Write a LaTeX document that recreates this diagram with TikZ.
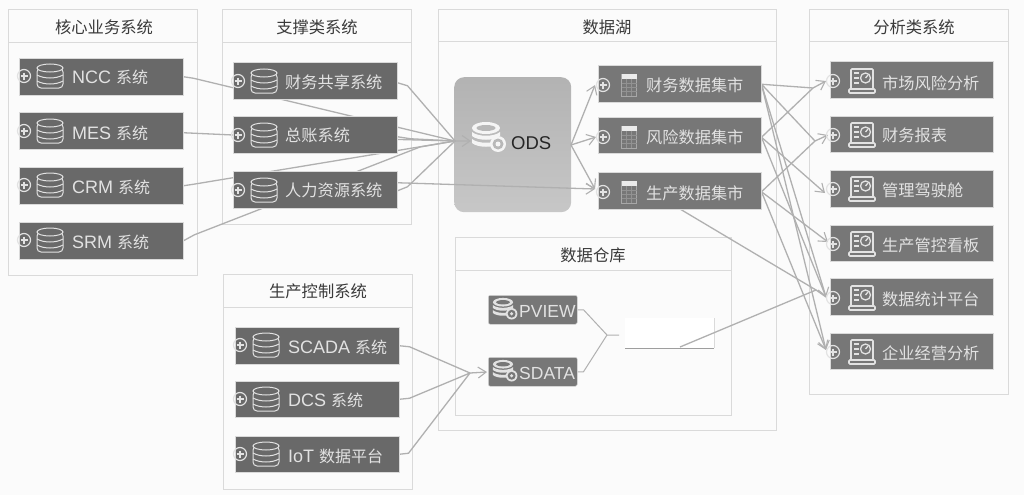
\documentclass[tikz,border=0pt]{standalone}
\usepackage{fontspec}
\setmainfont{Liberation Sans}
\newfontfamily\cjk{Noto Sans CJK SC}
\usetikzlibrary{arrows.meta,calc}
\pgfdeclarelayer{panelbg}
\pgfdeclarelayer{conn}
\pgfsetlayers{panelbg,conn,main}
\definecolor{pageC}{HTML}{FBFBFB}
\definecolor{panelC}{HTML}{DADADA}
\definecolor{boxC}{HTML}{696969}
\definecolor{boxD}{HTML}{777777}
\definecolor{inkL}{HTML}{E2E2E2}
\definecolor{lineC}{HTML}{B0B0B0}
\definecolor{titleC}{HTML}{3A3A3A}
\tikzset{
  panel/.style={draw=panelC,line width=1pt,fill=none},
  paneltitle/.style={text=titleC,font=\cjk\fontsize{16.3}{17}\selectfont,inner sep=0pt},
  sysbox/.style={fill=boxC,draw=panelC,line width=.5pt,inner sep=0pt},
  martbox/.style={fill=boxD,draw=panelC,line width=.5pt,inner sep=0pt},
  boxtext/.style={text=inkL,anchor=west,inner sep=0pt,font=\fontsize{18}{18}\selectfont},
  conn/.style={draw=lineC,line width=1.3pt,line join=round},
  tip/.style={conn,-{Straight Barb[length=8pt,width=11pt,line width=1.1pt]}},
  icon/.style={draw=inkL,line width=1pt}
}
% plus-in-circle at the left edge of a box
\newcommand{\plusmark}[2]{%
  \draw[draw=inkL,line width=1.2pt] (#1,#2) circle (6.5pt);
  \draw[draw=inkL,line width=1.2pt] (#1-3.5,#2) -- (#1+3.5,#2) (#1,#2-3.5) -- (#1,#2+3.5);
}
% outlined database
\newcommand{\dbmark}[2]{%
  \draw[icon,rounded corners=4pt] (#1-13,#2-8) rectangle (#1+13,#2+12);
  \draw[icon,fill=boxC] (#1,#2-8) ellipse (13pt and 4pt);
  \draw[icon] (#1-13,#2-1) .. controls (#1-6,#2+3) and (#1+6,#2+3) .. (#1+13,#2-1);
  \draw[icon] (#1-13,#2+5) .. controls (#1-6,#2+9) and (#1+6,#2+9) .. (#1+13,#2+5);
}
% table / calculator
\newcommand{\gridmark}[2]{%
  \draw[draw=inkL!45!boxD,line width=.8pt] (#1-7.5,#2-11) rectangle (#1+7.5,#2+11);
  \fill[white!92!black] (#1-7.5,#2-11) rectangle (#1+7.5,#2-6.5);
  \foreach \dy in {-2,2,6}{\draw[draw=inkL!25!boxD,line width=.6pt] (#1-7.5,#2+\dy) -- (#1+7.5,#2+\dy);}
  \foreach \dx in {-2.5,2.5}{\draw[draw=inkL!25!boxD,line width=.6pt] (#1+\dx,#2-6.5) -- (#1+\dx,#2+11);}
}
% dashboard laptop
\newcommand{\dashmark}[2]{%
  \draw[icon,line width=1.6pt,rounded corners=1pt] (#1-11,#2+8) -- (#1-11,#2-12) -- (#1+11,#2-12) -- (#1+11,#2+8);
  \draw[icon,line width=1.6pt,rounded corners=1pt] (#1-13,#2+8) rectangle (#1+13,#2+12);
  \draw[icon,line width=1.3pt] (#1+3.5,#2-3) circle (5pt);
  \draw[icon,line width=1.3pt] (#1+3.5,#2-3) -- (#1+6,#2-6);
  \draw[icon,line width=1.3pt] (#1-8,#2-8) -- (#1-3,#2-8) (#1-8,#2-3) -- (#1-3,#2-3) (#1-8,#2+2) -- (#1-3,#2+2);
}
% solid stacked database with gear
\newcommand{\stackmark}[5]{% x y scale fill hole
  \begin{scope}[shift={(#1,#2)},scale=#3]
    \fill[#4] (0,-8) ellipse (14pt and 6pt);
    \fill[#5] (0,-8) ellipse (9.5pt and 3pt);
    \fill[#4] (-14,-4) .. controls (-8,1) and (8,1) .. (14,-4) -- (14,0) .. controls (8,5) and (-8,5) .. (-14,0) -- cycle;
    \fill[#4] (-14,3) .. controls (-8,8) and (8,8) .. (14,3) -- (14,7) .. controls (8,12) and (-8,12) .. (-14,7) -- cycle;
    \fill[#4] (12,8) circle (8pt);
    \fill[#5] (12,8) circle (5.5pt);
    \fill[#4] (12,8) circle (2.5pt);
  \end{scope}
}
\begin{document}
\begin{tikzpicture}[x=1pt,y=-1pt]
\useasboundingbox (0,0) rectangle (1024,495);

\begin{pgfonlayer}{panelbg}
\fill[pageC] (0,0) rectangle (1024,495);
% panels
\node[panel,anchor=north west,minimum width=189pt,minimum height=266pt] (pCore) at (8,9) {};
\draw[panel] (8,43) -- (197,43);
\node[paneltitle] (tCore) at (104,27) {核心业务系统};
\node[panel,anchor=north west,minimum width=189pt,minimum height=215pt] (pSup) at (222,9) {};
\draw[panel] (222,43) -- (411,43);
\node[paneltitle] (tSup) at (317,27) {支撑类系统};
\node[panel,anchor=north west,minimum width=189pt,minimum height=215pt] (pCtl) at (223,274) {};
\draw[panel] (223,307) -- (412,307);
\node[paneltitle] (tCtl) at (318,291) {生产控制系统};
\node[panel,anchor=north west,minimum width=338pt,minimum height=421pt] (pLake) at (438,9) {};
\draw[panel] (438,42) -- (776,42);
\node[paneltitle] (tLake) at (607,27) {数据湖};
\node[panel,anchor=north west,minimum width=276pt,minimum height=178pt] (pWare) at (455,237) {};
\draw[panel] (455,270) -- (731,270);
\node[paneltitle] (tWare) at (593,255.5) {数据仓库};
\node[panel,anchor=north west,minimum width=199pt,minimum height=385pt] (pAna) at (809,9) {};
\draw[panel] (809,42) -- (1008,42);
\node[paneltitle] (tAna) at (914,27) {分析类系统};
% ODS box
\node[anchor=north west,minimum width=117pt,minimum height=135pt,rounded corners=10pt,top color=black!30,bottom color=black!22,inner sep=0pt] (ods) at (454,77) {};
% blanked-out element
\node[anchor=north west,minimum width=89pt,minimum height=30pt,fill=white,inner sep=0pt] (blank) at (625,318) {};
\draw[draw=panelC,line width=.6pt] (blank.north east) -- (blank.south east);
\draw[draw=black!38,line width=1.2pt] (blank.south west) -- (blank.south east);
\end{pgfonlayer}

% source boxes
\node[sysbox,anchor=north west,minimum width=164pt,minimum height=37pt] (ncc) at (19,58) {};
\node[sysbox,anchor=north west,minimum width=164pt,minimum height=37pt] (mes) at (19,112) {};
\node[sysbox,anchor=north west,minimum width=164pt,minimum height=37pt] (crm) at (19,167) {};
\node[sysbox,anchor=north west,minimum width=164pt,minimum height=37pt] (srm) at (19,222) {};
\node[boxtext] (nccT) at (72,77.5) {NCC {\cjk\fontsize{16}{18}\selectfont 系统}};
\node[boxtext] (mesT) at (72,133) {MES {\cjk\fontsize{16}{18}\selectfont 系统}};
\node[boxtext] (crmT) at (72,187.5) {CRM {\cjk\fontsize{16}{18}\selectfont 系统}};
\node[boxtext] (srmT) at (72,242) {SRM {\cjk\fontsize{16}{18}\selectfont 系统}};
\foreach \yy in {76,131,185,240}{\plusmark{24}{\yy}\dbmark{50}{\yy}}

\node[sysbox,anchor=north west,minimum width=164pt,minimum height=37pt] (fin) at (233,62) {};
\node[sysbox,anchor=north west,minimum width=164pt,minimum height=37pt] (gl) at (233,116) {};
\node[sysbox,anchor=north west,minimum width=164pt,minimum height=37pt] (hr) at (233,171) {};
\node[boxtext,font=\cjk\fontsize{16.2}{18}\selectfont] (finT) at (285,82) {财务共享系统};
\node[boxtext,font=\cjk\fontsize{16.2}{18}\selectfont] (glT) at (285,135.5) {总账系统};
\node[boxtext,font=\cjk\fontsize{16.2}{18}\selectfont] (hrT) at (285,190.5) {人力资源系统};
\foreach \yy in {81,135,190}{\plusmark{238}{\yy}\dbmark{264}{\yy}}

\node[sysbox,anchor=north west,minimum width=164pt,minimum height=37pt] (scada) at (235,327) {};
\node[sysbox,anchor=north west,minimum width=164pt,minimum height=36pt] (dcs) at (235,381) {};
\node[sysbox,anchor=north west,minimum width=164pt,minimum height=36pt] (iot) at (235,436) {};
\node[boxtext] (scadaT) at (288,347) {SCADA {\cjk\fontsize{16}{18}\selectfont 系统}};
\node[boxtext] (dcsT) at (288,400.5) {DCS {\cjk\fontsize{16}{18}\selectfont 系统}};
\node[boxtext] (iotT) at (288,456) {IoT {\cjk\fontsize{16}{18}\selectfont 数据平台}};
\foreach \yy in {345,399,454}{\plusmark{240}{\yy}\dbmark{266}{\yy}}

% data marts
\node[martbox,anchor=north west,minimum width=163pt,minimum height=37pt] (mFin) at (598,65) {};
\node[martbox,anchor=north west,minimum width=163pt,minimum height=36pt] (mRisk) at (598,117) {};
\node[martbox,anchor=north west,minimum width=163pt,minimum height=37pt] (mProd) at (598,172) {};
\node[boxtext,font=\cjk\fontsize{16.2}{18}\selectfont] (mFinT) at (646,85) {财务数据集市};
\node[boxtext,font=\cjk\fontsize{16.2}{18}\selectfont] (mRiskT) at (646,137.5) {风险数据集市};
\node[boxtext,font=\cjk\fontsize{16.2}{18}\selectfont] (mProdT) at (646,193) {生产数据集市};
\foreach \yy in {85,137,192}{\plusmark{603}{\yy}\gridmark{629}{\yy}}

% warehouse
\node[martbox,anchor=north west,minimum width=89pt,minimum height=29pt,rounded corners=2pt] (pview) at (488,295) {};
\node[martbox,anchor=north west,minimum width=89pt,minimum height=29pt,rounded corners=2pt] (sdata) at (488,357) {};
\node[boxtext,font=\fontsize{17.5}{18}\selectfont] (pviewT) at (519,311) {PVIEW};
\node[boxtext,font=\fontsize{17.5}{18}\selectfont] (sdataT) at (519,373) {SDATA};
\stackmark{503}{308}{.72}{inkL}{boxD}
\stackmark{503}{370}{.72}{inkL}{boxD}

% ODS content
\stackmark{486}{136}{1}{white!96!black}{black!28}
\node[anchor=west,inner sep=0pt,text=black!85,font=\fontsize{18.5}{20}\selectfont] (odsT) at (511,143) {ODS};

% analytics
\node[martbox,anchor=north west,minimum width=163pt,minimum height=37pt] (aMkt) at (830,61) {};
\node[martbox,anchor=north west,minimum width=163pt,minimum height=36pt] (aRep) at (830,115.5) {};
\node[martbox,anchor=north west,minimum width=163pt,minimum height=37pt] (aCock) at (830,170) {};
\node[martbox,anchor=north west,minimum width=163pt,minimum height=36pt] (aCtl) at (830,224.5) {};
\node[martbox,anchor=north west,minimum width=163pt,minimum height=37pt] (aStat) at (830,278) {};
\node[martbox,anchor=north west,minimum width=163pt,minimum height=36pt] (aEnt) at (830,332.5) {};
\node[boxtext,font=\cjk\fontsize{16.2}{18}\selectfont] (aMktT) at (882,83) {市场风险分析};
\node[boxtext,font=\cjk\fontsize{16.2}{18}\selectfont] (aRepT) at (882,135) {财务报表};
\node[boxtext,font=\cjk\fontsize{16.2}{18}\selectfont] (aCockT) at (882,190) {管理驾驶舱};
\node[boxtext,font=\cjk\fontsize{16.2}{18}\selectfont] (aCtlT) at (882,245) {生产管控看板};
\node[boxtext,font=\cjk\fontsize{16.2}{18}\selectfont] (aStatT) at (882,299.5) {数据统计平台};
\node[boxtext,font=\cjk\fontsize{16.2}{18}\selectfont] (aEntT) at (882,353) {企业经营分析};
\foreach \yy in {81,135,189,244,298,352}{\plusmark{833}{\yy}\dashmark{862}{\yy}}

% connector anchors
\coordinate (odsJ) at (455,141);
\coordinate (odsIn) at (471,141);
\coordinate (odsOut) at (571,145);
\coordinate (fJ) at (595,85);
\coordinate (rJ) at (596,137);
\coordinate (pJ) at (595,189);
\coordinate (sJ) at (470,373);
\coordinate (sIn) at (487,372);
\coordinate (wJ) at (607,335);
\coordinate (kMkt) at (813,88);
\coordinate (kRep) at (815,141);
\coordinate (kStat) at (816,290);
\coordinate (tMkt) at (826,81);
\coordinate (tRep) at (828,135);
\coordinate (tCock) at (825,193);
\coordinate (tCtl) at (828,242);
\coordinate (tStat) at (826,297);
\coordinate (tEnt) at (826,350);

\begin{pgfonlayer}{conn}
% into ODS
\draw[tip] (ncc.east) -- ++(10,1.5) -- (odsJ) -- (odsIn);
\draw[conn] ($(mes.east)+(0,2)$) -- (233,135) -- (odsJ);
\draw[conn] (crm.east) -- ++(10,-1.5) -- (odsJ);
\draw[conn] (srm.east) -- ++(11,-6) -- (420,147) -- (odsJ);
\draw[conn] ($(fin.east)+(0,2)$) -- ++(10,3) -- (odsJ);
\draw[conn] ($(gl.east)+(0,2)$) -- ++(13,2) -- (odsJ);
\draw[conn] ($(hr.east)+(0,1)$) -- ++(10,-4) -- (odsJ);
\draw[tip] ($(hr.east)+(0,-7)$) -- (pJ);
% ODS out
\draw[tip] (odsOut) -- (fJ);
\draw[tip] (odsOut) -- (rJ);
\draw[tip] (odsOut) -- (pJ);
% control to warehouse
\draw[conn] (scada.east) -- ++(10,1) -- (sJ);
\draw[conn] (dcs.east) -- ++(10,-1) -- (sJ);
\draw[conn] (iot.east) -- ++(9,-1) -- (sJ);
\draw[tip] (sJ) -- (sIn);
% warehouse
\draw[conn,line width=1pt] (pview.east) -- ++(6,0) -- (wJ) -- ++(12,0);
\draw[conn,line width=1pt] (sdata.east) -- ++(6,0) -- (wJ);
\draw[conn] (680,347) -- (kStat) -- (tStat);
% marts to analytics
\draw[tip] ($(mFin.east)+(0,0.5)$) -- (kMkt) -- (tMkt);
\draw[conn] ($(mRisk.east)+(0,2)$) -- (kMkt);
\draw[tip] ($(mFin.east)+(0,0.5)$) -- (kRep) -- (tRep);
\draw[conn] ($(mProd.east)+(0,1)$) -- (kRep);
\draw[tip] ($(mRisk.east)+(0,2)$) -- (tCock);
\draw[tip] ($(mProd.east)+(0,1)$) -- (tCtl);
\draw[tip] ($(mFin.east)+(0,0.5)$) -- (tStat);
\draw[tip] ($(mFin.east)+(0,0.5)$) -- (tEnt);
\draw[conn] ($(mRisk.east)+(0,2)$) -- (tStat);
\draw[tip] ($(mProd.east)+(0,1)$) -- (tEnt);
\draw[conn] (680,209) -- (kStat);
\end{pgfonlayer}
\end{tikzpicture}
\end{document}
